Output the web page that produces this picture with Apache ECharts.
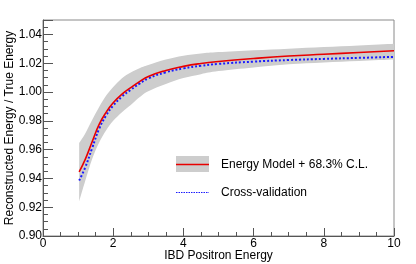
<!DOCTYPE html>
<html>
<head>
<meta charset="utf-8">
<script src="https://cdn.jsdelivr.net/npm/echarts@6/dist/echarts.min.js"></script>
<style>
html,body{margin:0;padding:0;background:#fff;}
#chart{width:416px;height:264px;}
</style>
</head>
<body>
<div id="chart"></div>
<script>
// Data
var energies   = [1.03, 1.2, 1.4, 1.6, 1.8, 2.0, 2.25, 2.5, 2.75, 3.0, 3.5, 4.0, 4.5, 5.0, 6.0, 7.0, 8.0, 9.0, 10.0];
var modelRatio = [0.9445, 0.953, 0.9655, 0.9775, 0.9860, 0.9925, 0.9985, 1.0030, 1.0072, 1.0108, 1.0150, 1.0178, 1.0198, 1.0212, 1.0233, 1.0250, 1.0262, 1.0274, 1.0286];
var crossValid = [0.9385, 0.9475, 0.961, 0.9745, 0.9838, 0.9906, 0.9968, 1.0015, 1.0058, 1.0094, 1.0137, 1.0164, 1.0182, 1.0195, 1.0211, 1.0222, 1.0230, 1.0237, 1.0244];
var bandUpper  = [0.9645, 0.971, 0.9805, 0.9895, 0.9975, 1.0035, 1.0095, 1.0135, 1.0165, 1.0187, 1.0225, 1.0252, 1.0267, 1.0277, 1.0290, 1.0301, 1.0312, 1.0323, 1.0335];
var bandLower  = [0.924, 0.938, 0.9535, 0.965, 0.9735, 0.980, 0.986, 0.991, 0.9963, 1.0005, 1.0055, 1.0097, 1.0124, 1.0145, 1.0170, 1.0192, 1.0205, 1.0215, 1.0225];
var legendLabels = ['Energy Model + 68.3% C.L.', 'Cross-validation'];
var xTitle = 'IBD Positron Energy';
var yTitle = 'Reconstructed Energy / True Energy';

function pairs(xs, ys) { return xs.map(function (x, i) { return [x, ys[i]]; }); }

// Catmull-Rom -> cubic bezier path commands through pixel points
function smoothSegs(pts, startCmd) {
  var d = startCmd + pts[0][0] + ' ' + pts[0][1];
  var t = 0.18;
  for (var i = 0; i < pts.length - 1; i++) {
    var p0 = pts[Math.max(i - 1, 0)], p1 = pts[i], p2 = pts[i + 1], p3 = pts[Math.min(i + 2, pts.length - 1)];
    var c1x = p1[0] + (p2[0] - p0[0]) * t, c1y = p1[1] + (p2[1] - p0[1]) * t;
    var c2x = p2[0] - (p3[0] - p1[0]) * t, c2y = p2[1] - (p3[1] - p1[1]) * t;
    d += ' C' + c1x + ' ' + c1y + ' ' + c2x + ' ' + c2y + ' ' + p2[0] + ' ' + p2[1];
  }
  return d;
}

var bandData = energies.map(function (x, i) { return [x, bandLower[i], bandUpper[i]]; });

var FONT = 'Liberation Sans, Arial, Helvetica, sans-serif';
var chart = echarts.init(document.getElementById('chart'), null, {renderer: 'canvas'});
chart.setOption({
  animation: false,
  backgroundColor: '#ffffff',
  grid: {left: 43, right: 22, top: 20, bottom: 28, outerBoundsMode: 'none', containLabel: false,
         show: true, borderColor: '#8a8a8a', borderWidth: 1, backgroundColor: 'transparent'},
  xAxis: {
    type: 'value', min: 0, max: 10, interval: 2,
    name: xTitle, nameLocation: 'middle', nameGap: 14, nameMoveOverlap: false,
    nameTextStyle: {fontFamily: FONT, fontSize: 12, color: '#000'},
    axisLine: {show: true, onZero: false, lineStyle: {color: '#555', width: 1}},
    axisTick: {show: true, inside: true, length: 8, lineStyle: {color: '#555'}},
    minorTick: {show: true, splitNumber: 4, length: 4, lineStyle: {color: '#555'}},
    axisLabel: {fontFamily: FONT, fontSize: 12, color: '#000', margin: 2},
    splitLine: {show: false}
  },
  yAxis: {
    type: 'value', min: 0.90, max: 1.05, interval: 0.02,
    name: yTitle, nameLocation: 'middle', nameGap: 27, nameRotate: 90, nameMoveOverlap: false,
    nameTextStyle: {fontFamily: FONT, fontSize: 12, color: '#000'},
    axisLine: {show: true, onZero: false, lineStyle: {color: '#555', width: 1}},
    axisTick: {show: true, inside: true, length: 10, lineStyle: {color: '#555'}},
    minorTick: {show: true, splitNumber: 4, length: 5, lineStyle: {color: '#555'}},
    axisLabel: {fontFamily: FONT, fontSize: 12, color: '#000', margin: 1, showMaxLabel: false,
      formatter: function (v) { return v.toFixed(2); }},
    splitLine: {show: false}
  },
  series: [
    {type: 'custom', data: [0], silent: true, z: 1, clip: true,
     renderItem: function (params, api) {
       var up = bandData.map(function (r) { return api.coord([r[0], r[2]]); });
       var lo = bandData.map(function (r) { return api.coord([r[0], r[1]]); }).reverse();
       var d = smoothSegs(up, 'M') + ' ' + smoothSegs(lo, 'L') + ' Z';
       return {type: 'path', shape: {pathData: d}, style: {fill: '#cdcdcd', stroke: null}};
     }},
    {type: 'line', data: pairs(energies, crossValid), smooth: true, symbol: 'none',
     lineStyle: {color: '#1a1aff', width: 2, type: [2, 2]}, z: 3},
    {type: 'line', data: pairs(energies, modelRatio), smooth: true, symbol: 'none',
     lineStyle: {color: '#e80000', width: 1.6}, z: 4}
  ],
  graphic: [
    {type: 'rect', shape: {x: 176, y: 156, width: 33, height: 16}, style: {fill: '#cdcdcd'}},
    {type: 'line', shape: {x1: 176, y1: 164.5, x2: 209, y2: 164.5}, style: {stroke: '#e80000', lineWidth: 1.6}},
    {type: 'text', x: 221, y: 164.5, style: {text: legendLabels[0], font: '12px ' + FONT, fill: '#000', textVerticalAlign: 'middle'}},
    {type: 'line', shape: {x1: 176, y1: 192.5, x2: 209, y2: 192.5}, style: {stroke: '#1a1aff', lineWidth: 1, lineDash: [1.5, 1]}},
    {type: 'text', x: 221, y: 193, style: {text: legendLabels[1], font: '12px ' + FONT, fill: '#000', textVerticalAlign: 'middle'}}
  ]
});
</script>
</body>
</html>
